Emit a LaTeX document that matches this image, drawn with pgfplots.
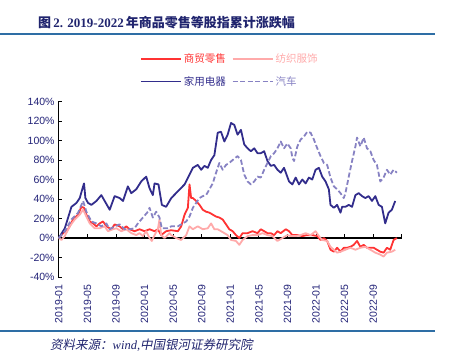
\documentclass[border=0pt]{standalone}
\usepackage{fontspec}
\usepackage{pgfplots}
\pgfplotsset{compat=1.18}
\setmainfont{Liberation Sans}
\newfontfamily\cjk{Noto Sans CJK SC}
\newfontfamily\cjkit[FakeSlant=0.2]{Noto Sans CJK SC}
\newfontfamily\lserif{Liberation Serif}
\definecolor{titleblue}{RGB}{32,36,110}
\definecolor{ruleblue}{RGB}{46,110,165}
\definecolor{ticknavy}{RGB}{35,35,120}
\definecolor{smred}{RGB}{255,51,51}
\definecolor{fzpink}{RGB}{255,170,170}
\definecolor{jdnavy}{RGB}{50,45,140}
\definecolor{qclav}{RGB}{135,130,195}
\begin{document}
\begin{tikzpicture}[x=1pt,y=1pt]
\useasboundingbox (0,0) rectangle (452,356);
% title
\node[anchor=west, text=titleblue, inner sep=0pt] at (38,333)
  {\fontsize{13}{15}\selectfont{\cjk\bfseries 图}\,{\lserif\bfseries 2. 2019-2022}\,{\cjk\bfseries 年商品零售等股指累计涨跌幅}};
\draw[ruleblue, line width=1.3pt] (0,322) -- (435,322);
\draw[ruleblue, line width=1.3pt] (0,25) -- (435,25);
\node[anchor=west, text=titleblue, inner sep=0pt] at (50,11)
  {\fontsize{12.5}{14}\selectfont{\cjkit 资料来源：}{\lserif\itshape wind,}{\cjkit 中国银河证券研究院}};
\begin{axis}[
  at={(81.3,81)}, anchor=south west,
  scale only axis, width=343.7pt, height=175.5pt,
  xmin=-0.1, xmax=48, ymin=-40, ymax=140,
  axis y line=left, axis x line=middle,
  axis line style={-, black, line width=1.1pt},
  hide obscured x ticks=false,
  tick align=inside, major tick length=4pt,
  every tick/.style={black, line width=0.9pt},
  xtick={0,4,...,48},
  xticklabels={2019-01,2019-05,2019-09,2020-01,2020-05,2020-09,2021-01,2021-05,2021-09,2022-01,2022-05,2022-09,{}},
  xticklabel shift=43pt,
  xticklabel style={rotate=90, anchor=east, text=ticknavy, font=\fontsize{10.5}{12}\selectfont},
  ytick={-40,-20,...,140},
  yticklabel={\pgfmathprintnumber{\tick}\%},
  yticklabel style={text=ticknavy, font=\fontsize{10.5}{12}\selectfont},
  /pgf/number format/assume math mode=true,
  legend columns=2,
  legend cell align=left,
  legend style={draw=none, fill=none, at={(0.229,1.295)}, anchor=north west,
     font=\cjk\fontsize{10.5}{12}\selectfont, row sep=8pt,
     /tikz/every even column/.append style={column sep=4pt},
     nodes={inner sep=2pt}},
  legend image code/.code={\draw[#1] (0pt,0pt) -- (40pt,0pt);},
  line join=round,
]
\addplot[smred, line width=1.8pt] table {
0 0
0.6 5
1.3 9
2.0 19
2.7 24
3.16 32
3.53 31
3.86 24
4.33 17
4.79 15
5.26 12
5.72 15
6.19 17
6.65 12
7.35 9
7.81 14
8.51 12
8.98 9
9.44 12
9.91 9
10.6 7
11.3 9
12.0 7
12.7 9
13.4 7
13.86 9
14.33 3
15.02 7
15.72 8
16.67 7
17.13 12
17.6 24
18.06 31
18.29 55
18.52 41
18.76 41
19.22 38
19.69 34
20.15 29
20.61 27
21.08 26
21.54 24
22.01 22
22.47 21
22.93 19
23.4 14
23.86 9
24.33 7
24.79 3
25.26 0
25.72 5
26.42 5
27.11 7
27.81 5
28.27 9
28.74 7
29.2 5
29.67 5
30.13 3
30.6 7
31.06 5
31.76 9
32.22 7
32.68 3
33.38 3
34.08 2
34.77 3
35.47 3
36.17 2
36.63 -2
37.09 0
37.56 -3
38.02 -12
38.49 -14
38.95 -10
39.42 -14
39.88 -10
40.34 -10
40.81 -9
41.27 -7
41.74 -3
42.2 -9
42.67 -7
43.13 -10
43.6 -10
44.06 -10
44.52 -12
44.99 -14
45.45 -15
45.92 -10
46.38 -12
46.85 -2
47.31 0
};
\addlegendentry[text=smred]{商贸零售}
\addplot[fzpink, line width=1.8pt] table {
0 0
0.37 -2
0.84 2
1.53 12
2.23 19
2.93 24
3.4 29
3.86 22
4.33 15
5.02 10
5.72 10
6.42 12
6.88 7
7.58 9
8.05 10
8.74 7
9.44 9
10.14 5
10.84 3
11.3 5
11.77 2
12.23 7
12.7 0
13.02 -3
13.4 3
13.86 9
14.09 19
14.33 3
14.79 0
15.49 5
15.74 3
16.43 0
17.13 -2
17.83 3
18.29 12
18.76 9
19.45 12
20.15 9
20.85 10
21.31 15
21.77 9
22.24 9
22.7 7
23.17 5
23.63 3
24.1 -2
24.79 -3
25.26 -7
25.72 -2
26.42 2
27.11 3
27.81 3
28.51 5
29.2 3
29.9 2
30.6 -3
31.29 0
31.99 3
32.45 2
33.15 2
33.84 3
34.54 5
35.24 3
35.93 7
36.4 2
36.86 -2
37.56 -3
38.02 -9
38.49 -12
38.95 -15
39.42 -14
40.11 -12
40.81 -10
41.51 -12
42.2 -10
42.9 -9
43.6 -12
44.29 -15
44.99 -17
45.45 -19
45.92 -15
46.61 -14
47.08 -12
};
\addlegendentry[text=fzpink]{纺织服饰}
\addplot[jdnavy, line width=1.8pt] table {
0 0
0.84 10
1.77 32
2.47 36
2.93 41
3.4 53
3.53 56
3.72 41
4.09 36
4.56 34
5.26 38
5.95 44
6.42 38
7.12 29
7.81 43
8.51 41
8.98 38
9.67 53
10.14 46
10.84 50
11.53 58
12.23 63
12.7 51
13.16 44
13.4 56
13.95 55
14.42 34
15.02 32
15.74 41
16.67 48
17.6 55
18.29 65
18.76 72
19.45 75
19.92 70
20.38 74
20.85 72
21.31 80
21.77 85
22.24 108
22.7 109
23.17 99
23.63 106
24.1 118
24.56 116
25.02 106
25.49 111
25.95 96
26.42 92
26.88 89
27.35 92
27.81 87
28.27 87
28.74 89
29.2 79
29.67 74
30.13 75
30.6 70
31.06 67
31.52 72
32.22 58
32.68 55
33.15 62
33.61 55
34.08 60
34.54 56
35.0 62
35.47 60
35.93 70
36.4 72
36.86 63
37.33 58
37.79 50
38.02 34
38.49 31
38.95 34
39.42 26
39.65 32
40.11 32
40.58 34
41.04 32
41.51 44
41.97 46
42.43 43
42.9 41
43.36 43
43.83 38
44.29 43
44.76 34
45.22 32
45.68 15
46.15 26
46.61 29
47.08 38
};
\addlegendentry[text=jdnavy]{家用电器}
\addplot[qclav, line width=1.8pt, dash pattern=on 5pt off 2.5pt] table {
0 0
0.84 7
1.77 19
2.7 26
3.4 38
3.86 27
4.56 17
5.26 15
5.95 12
6.65 15
7.12 9
7.81 12
8.51 14
9.21 9
9.91 9
10.6 10
11.07 15
11.77 21
12.47 27
12.7 31
13.16 21
13.63 27
14.09 21
14.42 10
15.26 10
15.74 12
16.67 12
17.13 14
17.83 17
18.29 22
18.76 31
19.22 36
19.69 41
20.15 43
20.61 44
21.08 50
21.54 56
22.01 67
22.47 77
22.93 70
23.4 75
23.86 77
24.33 80
25.02 84
25.49 80
25.95 65
26.42 58
26.88 55
27.35 58
27.81 63
28.27 62
28.74 70
29.2 77
29.67 84
30.13 87
30.6 92
31.06 99
31.52 92
31.99 97
32.45 92
32.7 82
32.92 79
33.38 94
33.84 101
34.31 104
34.77 109
35.24 108
35.7 101
36.17 92
36.63 84
37.09 77
37.56 75
38.02 62
38.49 53
38.95 50
39.42 46
39.88 41
40.11 46
40.58 63
41.04 79
41.51 94
41.74 103
42.2 94
42.67 103
43.13 92
43.6 89
44.06 80
44.52 75
44.99 58
45.45 62
45.92 70
46.38 65
46.85 70
47.31 67
};
\addlegendentry[text=qclav]{汽车}
\end{axis}
\end{tikzpicture}
\end{document}
